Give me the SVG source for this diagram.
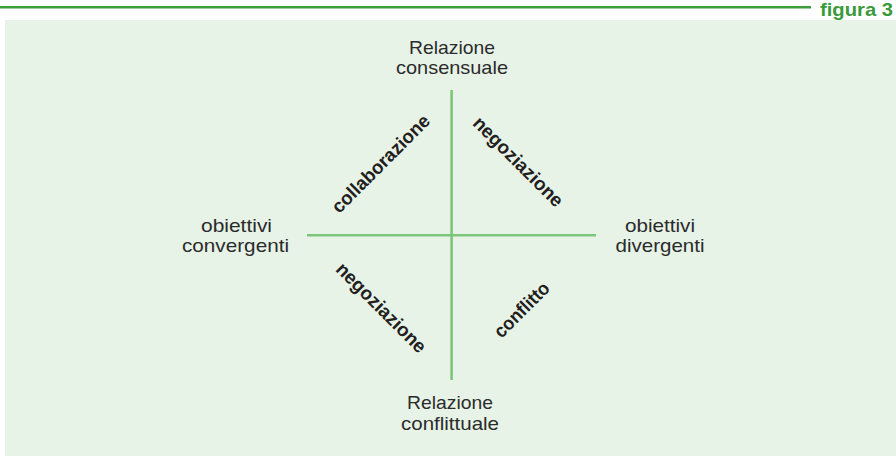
<svg xmlns="http://www.w3.org/2000/svg" width="896" height="462" viewBox="0 0 896 462">
  <style>
    .lbl { font-family: "Liberation Sans", Arial, sans-serif; font-size: 19px; fill: #2b2b2b; text-anchor: middle; }
    .qd { font-family: "Liberation Sans", Arial, sans-serif; font-size: 19px; font-weight: bold; fill: #231f20; text-anchor: middle; }
    .axis { stroke: #7cc67c; stroke-width: 2.6; fill: none; }
  </style>
  <rect width="896" height="462" fill="#ffffff"/>
  <!-- heading rule and figure number -->
  <g id="header">
    <line x1="0" y1="7.3" x2="811" y2="7.3" stroke="#3c9c3c" stroke-width="2.6"/>
    <text x="893" y="16" font-family="Liberation Sans, Arial, sans-serif" font-size="19" font-weight="bold" fill="#3a9a3a" text-anchor="end" textLength="73" lengthAdjust="spacingAndGlyphs">figura 3</text>
  </g>
  <!-- panel -->
  <rect x="5" y="20" width="891" height="436" fill="#e8f3e8"/>
  <!-- axes -->
  <g id="connectors">
    <line class="axis" x1="451.6" y1="90" x2="451.6" y2="380"/>
    <line class="axis" x1="307" y1="235.3" x2="596" y2="235.3"/>
  </g>
  <!-- axis end labels -->
  <g id="top-label">
    <text class="lbl" x="452" y="54" textLength="86" lengthAdjust="spacingAndGlyphs">Relazione</text>
    <text class="lbl" x="452" y="74" textLength="112" lengthAdjust="spacingAndGlyphs">consensuale</text>
  </g>
  <g id="bottom-label">
    <text class="lbl" x="450" y="409" textLength="86" lengthAdjust="spacingAndGlyphs">Relazione</text>
    <text class="lbl" x="450" y="430" textLength="98" lengthAdjust="spacingAndGlyphs">conflittuale</text>
  </g>
  <g id="left-label">
    <text class="lbl" x="236.5" y="232" textLength="71" lengthAdjust="spacingAndGlyphs">obiettivi</text>
    <text class="lbl" x="235.5" y="252" textLength="107" lengthAdjust="spacingAndGlyphs">convergenti</text>
  </g>
  <g id="right-label">
    <text class="lbl" x="660" y="232" textLength="70" lengthAdjust="spacingAndGlyphs">obiettivi</text>
    <text class="lbl" x="660" y="252" textLength="89" lengthAdjust="spacingAndGlyphs">divergenti</text>
  </g>
  <!-- quadrant labels -->
  <g id="q-collaborazione" transform="translate(381,164) rotate(-45)">
    <text class="qd" x="0" y="6" textLength="130" lengthAdjust="spacingAndGlyphs">collaborazione</text>
  </g>
  <g id="q-negoziazione-top" transform="translate(518,162) rotate(45)">
    <text class="qd" x="0" y="6" textLength="119" lengthAdjust="spacingAndGlyphs">negoziazione</text>
  </g>
  <g id="q-negoziazione-bottom" transform="translate(381,308) rotate(45)">
    <text class="qd" x="0" y="6" textLength="119" lengthAdjust="spacingAndGlyphs">negoziazione</text>
  </g>
  <g id="q-conflitto" transform="translate(522,310) rotate(-45)">
    <text class="qd" x="0" y="6" textLength="70" lengthAdjust="spacingAndGlyphs">conflitto</text>
  </g>
</svg>
